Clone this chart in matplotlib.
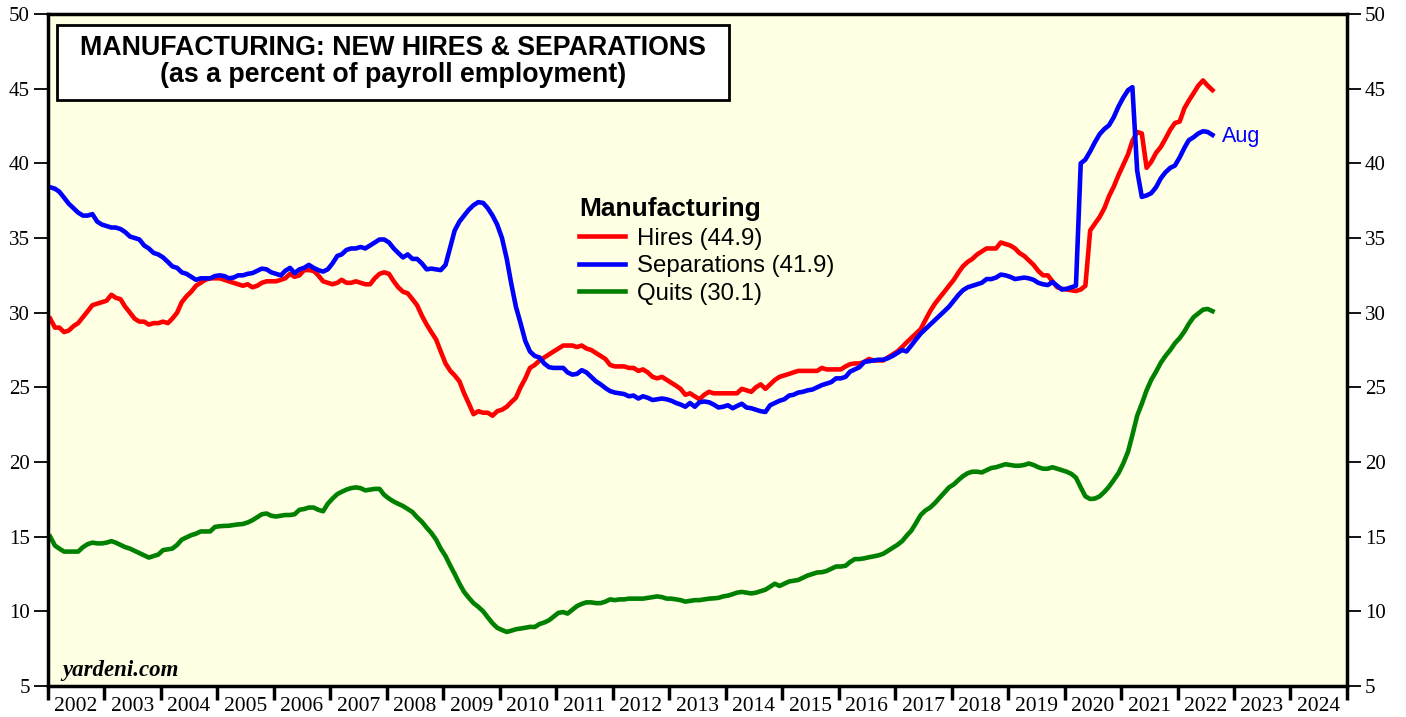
import matplotlib.pyplot as plt
import matplotlib.dates as mdates
from matplotlib.patches import Rectangle
import pandas as pd

# Monthly values, Jan 2002 .. Aug 2022 (percent of payroll employment)
hires = [
    29.6, 29.0, 29.0, 28.7, 28.8, 29.1, 29.3, 29.7, 30.1, 30.5, 30.6, 30.7,  # 2002
    30.8, 31.2, 31.0, 30.9, 30.4, 30.0, 29.6, 29.4, 29.4, 29.2, 29.3, 29.3,  # 2003
    29.4, 29.3, 29.6, 30.0, 30.7, 31.1, 31.4, 31.8, 32.0, 32.2, 32.3, 32.3,  # 2004
    32.3, 32.2, 32.1, 32.0, 31.9, 31.8, 31.9, 31.7, 31.8, 32.0, 32.1, 32.1,  # 2005
    32.1, 32.2, 32.3, 32.6, 32.4, 32.5, 32.85, 32.85, 32.8, 32.5, 32.1, 32.0,  # 2006
    31.9, 32.0, 32.2, 32.0, 32.0, 32.1, 32.0, 31.9, 31.9, 32.3, 32.6, 32.7,  # 2007
    32.6, 32.1, 31.7, 31.4, 31.3, 30.9, 30.5, 29.8, 29.2, 28.7, 28.2, 27.4,  # 2008
    26.6, 26.1, 25.8, 25.4, 24.6, 23.9, 23.2, 23.4, 23.3, 23.3, 23.1, 23.4,  # 2009
    23.5, 23.7, 24.0, 24.3, 25.0, 25.6, 26.3, 26.5, 26.8, 27.0, 27.2, 27.4,  # 2010
    27.6, 27.8, 27.8, 27.8, 27.7, 27.8, 27.6, 27.5, 27.3, 27.1, 26.9, 26.5,  # 2011
    26.4, 26.4, 26.4, 26.3, 26.3, 26.1, 26.2, 26.0, 25.7, 25.6, 25.7, 25.5,  # 2012
    25.3, 25.1, 24.9, 24.5, 24.6, 24.4, 24.2, 24.5, 24.7, 24.6, 24.6, 24.6,  # 2013
    24.6, 24.6, 24.6, 24.9, 24.8, 24.7, 25.0, 25.2, 24.9, 25.2, 25.5, 25.7,  # 2014
    25.8, 25.9, 26.0, 26.1, 26.1, 26.1, 26.1, 26.1, 26.3, 26.2, 26.2, 26.2,  # 2015
    26.2, 26.4, 26.55, 26.6, 26.6, 26.7, 26.9, 26.8, 26.8, 26.8, 27.0, 27.2,  # 2016
    27.4, 27.7, 28.0, 28.3, 28.6, 28.9, 29.5, 30.1, 30.6, 31.0, 31.4, 31.8,  # 2017
    32.2, 32.7, 33.1, 33.4, 33.6, 33.9, 34.1, 34.3, 34.3, 34.3, 34.7, 34.6,  # 2018
    34.5, 34.3, 34.0, 33.8, 33.5, 33.2, 32.8, 32.5, 32.5, 32.1, 31.7, 31.6,  # 2019
    31.55, 31.5, 31.45, 31.55, 31.8, 35.5, 35.95, 36.4, 37.0, 37.8, 38.45, 39.2,  # 2020
    39.9, 40.6, 41.5, 42.1, 42.0, 39.7, 40.1, 40.7, 41.1, 41.65, 42.25, 42.7,  # 2021
    42.8, 43.7, 44.2, 44.7, 45.2, 45.55, 45.2, 44.9,  # 2022
]
separations = [
    38.4, 38.3, 38.1, 37.7, 37.3, 37.0, 36.7, 36.5, 36.5, 36.6, 36.1, 35.9,
    35.8, 35.7, 35.7, 35.6, 35.4, 35.1, 35.0, 34.9, 34.5, 34.3, 34.0, 33.9,
    33.7, 33.4, 33.1, 33.0, 32.7, 32.6, 32.4, 32.2, 32.3, 32.3, 32.3, 32.45,
    32.5, 32.45, 32.3, 32.35, 32.5, 32.5, 32.6, 32.65, 32.8, 32.95, 32.9, 32.7,
    32.6, 32.5, 32.8, 33.0, 32.65, 32.9, 33.0, 33.2, 33.0, 32.85, 32.75, 32.9,
    33.3, 33.8, 33.9, 34.2, 34.3, 34.3, 34.4, 34.3, 34.5, 34.7, 34.9, 34.9,
    34.7, 34.3, 34.0, 33.7, 33.9, 33.6, 33.6, 33.3, 32.9, 32.95, 32.9, 32.85,
    33.2, 34.4, 35.5, 36.1, 36.5, 36.9, 37.2, 37.4, 37.35, 37.0, 36.5, 35.9,
    35.0, 33.6, 32.0, 30.4, 29.3, 28.1, 27.4, 27.1, 27.0, 26.6, 26.35, 26.3,
    26.3, 26.3, 26.0, 25.85, 25.9, 26.15, 26.0, 25.7, 25.4, 25.2, 24.95, 24.75,
    24.65, 24.6, 24.55, 24.4, 24.45, 24.25, 24.4, 24.3, 24.15, 24.2, 24.25, 24.2,
    24.1, 23.95, 23.85, 23.7, 23.95, 23.7, 24.0, 24.05, 24.0, 23.85, 23.65, 23.7,
    23.8, 23.6, 23.75, 23.9, 23.65, 23.6, 23.5, 23.4, 23.35, 23.8, 23.95, 24.1,
    24.2, 24.45, 24.5, 24.65, 24.7, 24.8, 24.85, 25.0, 25.15, 25.25, 25.35, 25.6,
    25.6, 25.7, 26.05, 26.2, 26.35, 26.7, 26.75, 26.8, 26.85, 26.85, 26.95, 27.1,
    27.3, 27.5, 27.4, 27.8, 28.2, 28.6, 28.9, 29.2, 29.5, 29.8, 30.1, 30.4,
    30.8, 31.2, 31.5, 31.7, 31.8, 31.9, 32.0, 32.25, 32.25, 32.35, 32.55, 32.5,
    32.4, 32.25, 32.3, 32.35, 32.3, 32.2, 32.0, 31.9, 31.85, 32.05, 31.8, 31.55,
    31.6, 31.7, 31.8, 40.0, 40.25, 40.8, 41.4, 41.95, 42.3, 42.55, 43.1, 43.8,
    44.4, 44.9, 45.1, 39.5, 37.75, 37.85, 38.0, 38.4, 39.0, 39.4, 39.7, 39.85,
    40.4, 41.05, 41.55, 41.75, 42.0, 42.15, 42.1, 41.9,
]
quits = [
    15.0, 14.4, 14.2, 14.0, 14.0, 14.0, 14.0, 14.3, 14.5, 14.6, 14.55, 14.55,
    14.6, 14.7, 14.6, 14.45, 14.3, 14.2, 14.05, 13.9, 13.75, 13.6, 13.7, 13.8,
    14.1, 14.15, 14.2, 14.45, 14.8, 14.95, 15.1, 15.2, 15.35, 15.35, 15.35, 15.65,
    15.7, 15.72, 15.73, 15.78, 15.82, 15.85, 15.95, 16.1, 16.3, 16.5, 16.55, 16.4,
    16.35, 16.4, 16.45, 16.45, 16.5, 16.8, 16.85, 16.95, 16.95, 16.8, 16.7, 17.2,
    17.55, 17.85, 18.0, 18.15, 18.25, 18.3, 18.25, 18.1, 18.15, 18.2, 18.2, 17.8,
    17.55, 17.35, 17.2, 17.05, 16.85, 16.65, 16.3, 16.0, 15.6, 15.25, 14.8, 14.2,
    13.7, 13.05, 12.5, 11.85, 11.3, 10.9, 10.55, 10.3, 10.0, 9.6, 9.2, 8.9,
    8.75, 8.62, 8.7, 8.8, 8.85, 8.9, 8.96, 8.95, 9.15, 9.25, 9.4, 9.65,
    9.9, 9.95, 9.85, 10.1, 10.35, 10.5, 10.6, 10.6, 10.55, 10.55, 10.65, 10.8,
    10.75, 10.8, 10.8, 10.85, 10.85, 10.85, 10.85, 10.9, 10.95, 11.0, 10.95, 10.85,
    10.85, 10.8, 10.75, 10.65, 10.7, 10.75, 10.75, 10.8, 10.85, 10.87, 10.9, 11.0,
    11.05, 11.15, 11.25, 11.3, 11.25, 11.2, 11.25, 11.35, 11.45, 11.65, 11.85, 11.7,
    11.85, 12.0, 12.05, 12.1, 12.25, 12.4, 12.5, 12.6, 12.62, 12.7, 12.85, 13.0,
    13.0, 13.05, 13.3, 13.5, 13.5, 13.55, 13.62, 13.68, 13.75, 13.85, 14.05, 14.25,
    14.45, 14.7, 15.05, 15.4, 15.9, 16.45, 16.75, 16.95, 17.25, 17.6, 17.95, 18.3,
    18.5, 18.8, 19.05, 19.25, 19.35, 19.35, 19.3, 19.45, 19.6, 19.65, 19.75, 19.85,
    19.8, 19.75, 19.75, 19.8, 19.9, 19.8, 19.65, 19.55, 19.55, 19.65, 19.55, 19.45,
    19.35, 19.2, 18.95, 18.3, 17.7, 17.52, 17.55, 17.7, 18.0, 18.35, 18.8, 19.25,
    19.9, 20.7, 21.8, 23.1, 23.9, 24.8, 25.5, 26.05, 26.65, 27.1, 27.5, 27.95,
    28.3, 28.75, 29.25, 29.7, 29.95, 30.2, 30.25, 30.1,
]

months = pd.date_range('2002-01-01', periods=len(hires), freq='MS') + pd.Timedelta(days=14)
last_month = 'Aug'

serif = 'Liberation Serif'
sans = 'Liberation Sans'

fig = plt.figure(figsize=(14.06, 7.17), dpi=100)
ax = fig.add_axes([48 / 1406, 1 - 686 / 717, 1299 / 1406, 672 / 717])
ax.set_facecolor('#ffffe3')

ax.plot(months, hires, color='#ff0000', lw=3.3, label=f'Hires ({hires[-1]:.1f})')
ax.plot(months, separations, color='#0000ff', lw=3.3, label=f'Separations ({separations[-1]:.1f})')
ax.plot(months, quits, color='#008000', lw=3.3, label=f'Quits ({quits[-1]:.1f})')

ax.set_xlim(pd.Timestamp('2002-01-01'), pd.Timestamp('2025-01-01'))
ax.set_ylim(5, 50)

# y axis on both sides
ax.set_yticks(range(5, 51, 5))
ax.tick_params(axis='y', left=True, right=True, labelleft=True, labelright=True,
               direction='out', length=10, width=1.3, pad=3, labelsize=15)
for lab in ax.get_yticklabels():
    lab.set_fontfamily(serif)

# years: ticks at boundaries, labels centred in between
ax.xaxis.set_major_locator(mdates.YearLocator())
ax.xaxis.set_major_formatter(plt.NullFormatter())
ax.xaxis.set_minor_locator(mdates.MonthLocator(bymonth=7))
ax.xaxis.set_minor_formatter(mdates.DateFormatter('%Y'))
ax.tick_params(axis='x', which='major', direction='out', length=10, width=2.5)
ax.tick_params(axis='x', which='minor', length=0, pad=8, labelsize=15.5)
for lab in ax.get_xticklabels(minor=True):
    lab.set_fontfamily(serif)

for sp in ax.spines.values():
    sp.set_linewidth(2.5)

# title box
ax.add_patch(Rectangle((0.0069, 0.872), 0.5173, 0.1116, transform=ax.transAxes,
                       facecolor='white', edgecolor='black', lw=2, zorder=5))
ax.text(0.2656, 0.929, 'MANUFACTURING: NEW HIRES & SEPARATIONS\n(as a percent of payroll employment)',
        transform=ax.transAxes, ha='center', va='center', fontsize=19.3, fontweight='bold',
        family=sans, linespacing=1.05, zorder=6)

leg = ax.legend(loc='upper left', bbox_to_anchor=(0.409, 0.728), frameon=False,
                title='Manufacturing', alignment='left', borderpad=0, borderaxespad=0,
                handlelength=1.9, handletextpad=0.5, labelspacing=0.23,
                prop={'family': sans, 'size': 17.3})
leg.get_title().set_fontproperties({'family': sans, 'size': 19, 'weight': 'bold'})
leg._legend_box.sep = 5

ax.annotate(last_month, xy=(months[-1], separations[-1]), xytext=(7, -1),
            textcoords='offset points', color='#0000ff', fontsize=15.5,
            family=sans, va='center', ha='left')

ax.text(0.0108, 0.015, 'yardeni.com', transform=ax.transAxes, fontsize=16.5,
        family=serif, fontweight='bold', fontstyle='italic', va='baseline')

fig.savefig('out.png', dpi=100)
